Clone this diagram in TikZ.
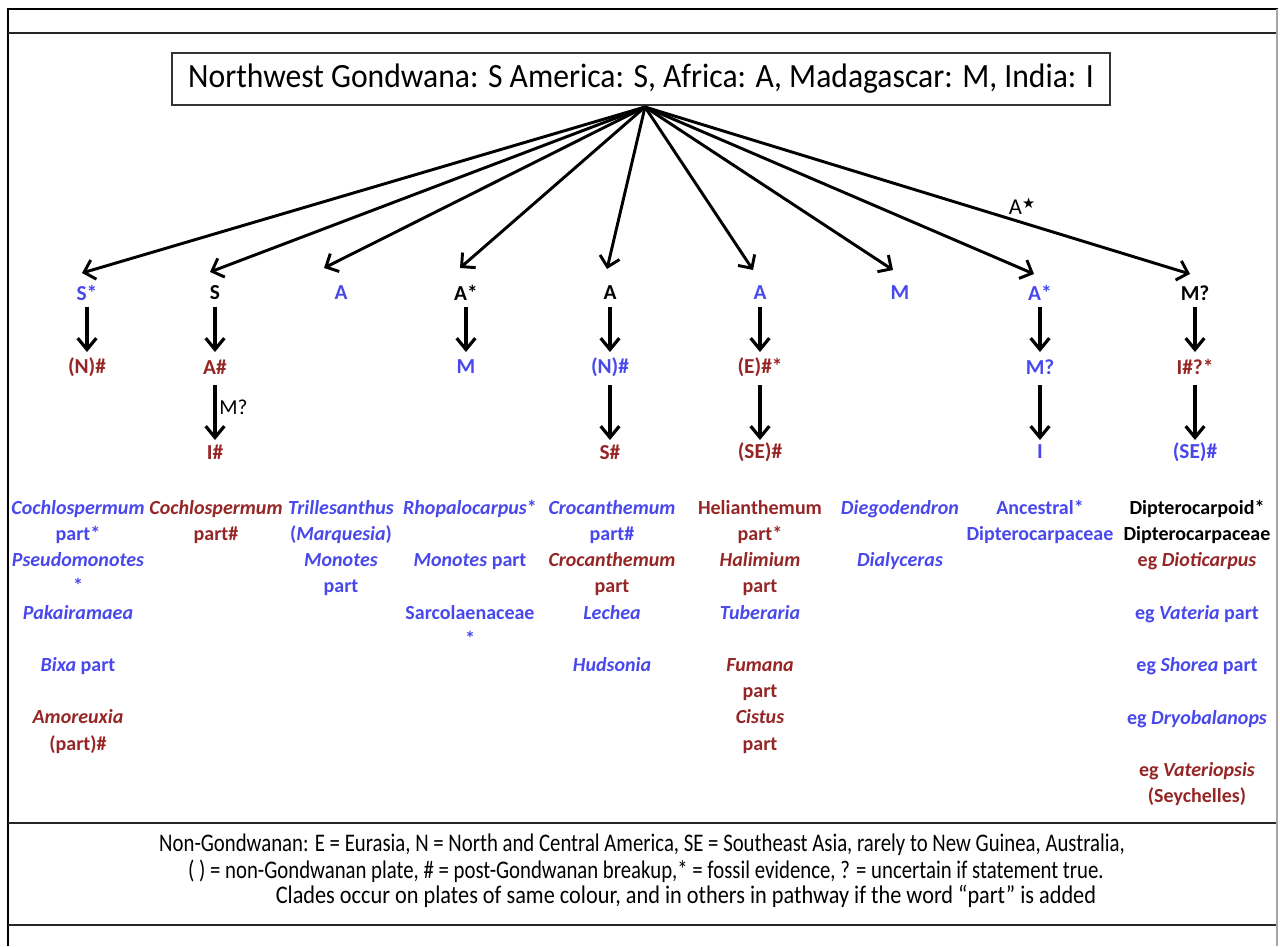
\documentclass[tikz,border=0pt]{standalone}
\usepackage{fontspec}
\setmainfont{Carlito}
\newfontfamily\symfont{DejaVu Sans}
\newfontfamily\condfont[FakeStretch=0.82]{Carlito}
\newfontfamily\condfontb[FakeStretch=0.88]{Carlito}
\newfontfamily\titlefont[FakeStretch=0.93]{Carlito}
\usetikzlibrary{arrows.meta}
\definecolor{pblue}{RGB}{72,72,236}
\definecolor{pred}{RGB}{150,38,38}
\begin{document}
\begin{tikzpicture}[x=0.75pt,y=-0.75pt,
  lab/.style={font=\bfseries\fontsize{16}{18}\selectfont, inner sep=0pt},
  lst/.style={font=\bfseries\fontsize{15}{19.65}\selectfont, align=center, anchor=north, inner sep=0pt},
  toparr/.style={line width=2.2pt, -{Straight Barb[length=7.5pt,width=15pt,line width=2.2pt]}},
  varr/.style={line width=2.4pt, -{Straight Barb[length=8.5pt,width=14pt,line width=2.4pt]}},
  rule/.style={line width=2.2pt, black!85},
  foot/.style={font=\condfont\fontsize{19}{22}\selectfont, inner sep=0pt}
]
\useasboundingbox (0,0) rectangle (1280,946);
% frame
\draw[line width=2pt] (8,946) -- (8,9) -- (1278,9);
\draw[line width=0.8pt, black!35] (1277,9) -- (1277,946);
\draw[rule] (8,33) -- (1276,33);
\draw[rule] (8,823) -- (1276,823);
\draw[rule] (8,925) -- (1276,925);

% title
\node[draw=black!80, line width=1.1pt, minimum width=703.5pt, minimum height=39pt, inner sep=0pt,
      font=\titlefont\fontsize{25.5}{28}\selectfont] (title) at (641,79)
  {Northwest Gondwana: S America: S, Africa: A, Madagascar: M, India: I};
\coordinate (hub) at (645,107);

% level 1
\node[lab, text=pblue] (a1) at (87,293) {S*};
\node[lab] (b1) at (215,293) {S};
\node[lab, text=pblue] (c1) at (341,293) {A};
\node[lab] (d1) at (466,293) {A*};
\node[lab] (e1) at (610,293) {A};
\node[lab, text=pblue] (f1) at (760,293) {A};
\node[lab, text=pblue] (g1) at (900,293) {M};
\node[lab, text=pblue] (h1) at (1040,293) {A*};
\node[lab] (i1) at (1195,293) {M?};

% arrow tips
\coordinate (ta) at (82,273);
\coordinate (tb) at (210,272);
\coordinate (tc) at (324,268);
\coordinate (td) at (460,268);
\coordinate (te) at (607,269);
\coordinate (tf) at (753,270);
\coordinate (tg) at (893,270);
\coordinate (th) at (1034,274);
\coordinate (ti) at (1190,274);
\foreach \t in {ta,tb,tc,td,te,tf,tg,th,ti} \draw[toparr] (hub) -- (\t);
\node[lab, font=\fontsize{17}{18}\selectfont] (astar) at (1022,206) {A\raisebox{0.6ex}{\symfont\fontsize{11}{11}\selectfont ★}};

% level 2
\node[lab, text=pred] (a2) at (87,367) {(N)\#};
\node[lab, text=pred] (b2) at (215,367) {A\#};
\node[lab, text=pblue] (d2) at (466,367) {M};
\node[lab, text=pblue] (e2) at (610,367) {(N)\#};
\node[lab, text=pred] (f2) at (760,367) {(E)\#*};
\node[lab, text=pblue] (h2) at (1040,367) {M?};
\node[lab, text=pred] (i2) at (1195,367) {I\#?*};

\foreach \u/\v in {a1/a2,b1/b2,d1/d2,e1/e2,f1/f2,h1/h2,i1/i2}
  \draw[varr, shorten <=14pt*0.75, shorten >=15pt*0.75] (\u.center) -- (\v.center);

% level 3
\node[lab, text=pred] (b3) at (215,452) {I\#};
\node[lab, text=pred] (e3) at (610,452) {S\#};
\node[lab, text=pred] (f3) at (760,452) {(SE)\#};
\node[lab, text=pblue] (h3) at (1040,452) {I};
\node[lab, text=pblue] (i3) at (1195,452) {(SE)\#};

\foreach \u/\v in {b2/b3,e2/e3,f2/f3,h2/h3,i2/i3}
  \draw[varr, shorten <=18pt*0.75, shorten >=12pt*0.75] (\u.center) -- (\v.center);
\node[lab, font=\fontsize{16}{18}\selectfont, anchor=west] (mq) at (219,407) {M?};

% lists
\node[lst, text=pblue] (l1) at (78,500) {\textit{Cochlospermum}\\part*\\\textit{Pseudomonotes}\\*\\\textit{Pakairamaea}\\~\\\textit{Bixa} part\\~\\\color{pred}\textit{Amoreuxia}\\\color{pred}(part)\#};
\node[lst, text=pred] (l2) at (216,500) {\textit{Cochlospermum}\\part\#};
\node[lst, text=pblue] (l3) at (341,500) {\textit{Trillesanthus}\\(\textit{Marquesia})\\\textit{Monotes}\\part};
\node[lst, text=pblue] (l4) at (470,500) {\textit{Rhopalocarpus}*\\~\\\textit{Monotes} part\\~\\Sarcolaenaceae\\*};
\node[lst, text=pblue] (l5) at (612,500) {\textit{Crocanthemum}\\part\#\\\color{pred}\textit{Crocanthemum}\\\color{pred}part\\\textit{Lechea}\\~\\\textit{Hudsonia}};
\node[lst, text=pred] (l6) at (760,500) {Helianthemum\\part*\\\textit{Halimium}\\part\\\color{pblue}\textit{Tuberaria}\\~\\\textit{Fumana}\\part\\\textit{Cistus}\\part};
\node[lst, text=pblue] (l7) at (900,500) {\textit{Diegodendron}\\~\\\textit{Dialyceras}};
\node[lst, text=pblue] (l8) at (1040,500) {Ancestral*\\Dipterocarpaceae};
\node[lst] (l9) at (1197,500) {Dipterocarpoid*\\Dipterocarpaceae\\\color{pred}eg \textit{Dioticarpus}\\~\\\color{pblue}eg \textit{Vateria} part\\~\\\color{pblue}eg \textit{Shorea} part\\~\\\color{pblue}eg \textit{Dryobalanops}\\~\\\color{pred}eg \textit{Vateriopsis}\\\color{pred}(Seychelles)};

% footer
\node[foot] (f1t) at (642,845) {Non-Gondwanan: E = Eurasia, N = North and Central America, SE = Southeast Asia, rarely to New Guinea, Australia,};
\node[foot] (f2t) at (646,871) {( ) = non-Gondwanan plate, \# = post-Gondwanan breakup,* = fossil evidence, ? = uncertain if statement true.};
\node[foot, font=\condfontb\fontsize{19}{22}\selectfont] (f3t) at (686,896) {Clades occur on plates of same colour, and in others in pathway if the word “part” is added};
\end{tikzpicture}
\end{document}
